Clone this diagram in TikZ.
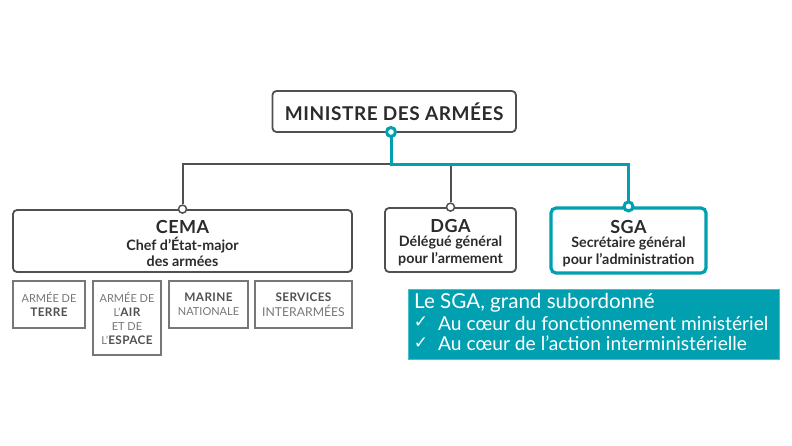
\documentclass[tikz,border=0pt]{standalone}
\usepackage{fontspec}
\setmainfont{Lato}
\definecolor{ink}{HTML}{2B2B2E}
\definecolor{edge}{HTML}{505052}
\definecolor{soft}{HTML}{77777A}
\definecolor{teal}{HTML}{00A0B0}
\definecolor{band}{HTML}{00A0B0}
\newfontfamily\wide[LetterSpace=3]{Lato}
\newfontfamily\sym{DejaVu Sans}
\newcommand{\fs}[1]{\fontsize{#1}{#1}\selectfont}
\tikzset{x=1pt,y=-1pt,
 mainbox/.style={draw=edge,line width=1.8pt,rounded corners=4pt,align=center,inner sep=0pt,text=ink},
 smallbox/.style={draw=soft,line width=1.3pt,align=center,inner sep=0pt,text=soft,font=\fs{11}},
 tealbox/.style={mainbox,draw=teal,line width=3.2pt,rounded corners=5pt},
 greyline/.style={draw=edge,line width=2pt},
 tealline/.style={draw=teal,line width=3pt},
 dotgrey/.style={circle,draw=edge,fill=white,line width=1.5pt,minimum size=8pt,inner sep=0pt},
 dotteal/.style={circle,draw=teal,fill=white,line width=3pt,minimum size=9pt,inner sep=0pt},
 notetext/.style={anchor=west,inner sep=0pt,text=white,font=\fs{19.2}},
 checkmark/.style={inner sep=0pt,text=white,font=\sym\fs{17}}}
\newcommand{\bx}[6]{\node[#1,minimum width=#4 pt,minimum height=#5 pt] (#2) at #3 {#6};}
\newcommand{\three}[3]{\rule{0pt}{18.5pt}{\bfseries\fs{18}\wide #1}\\[2pt]\fs{14.3}\bfseries #2\\[2.5pt]\fs{14.3}\bfseries #3}
\newcommand{\bold}[1]{\textcolor{edge}{\wide\bfseries\fs{11.8}#1}}
\begin{document}
\begin{tikzpicture}
\useasboundingbox (0,0) rectangle (792,445);
\fill[white] (0,0) rectangle (792,445);
\bx{mainbox}{min}{(394.2,111.5)}{243.5}{41}{\bfseries\fs{19}\wide MINISTRE DES ARMÉES}
\bx{mainbox}{cema}{(182.5,241)}{339}{62}{\three{CEMA}{Chef d’État-major}{des armées}}
\bx{mainbox}{dga}{(450.5,240)}{131}{64}{\three{DGA}{Délégué général}{pour l’armement}}
\bx{tealbox}{sga}{(628.5,240.5)}{155}{65}{\three{SGA}{Secrétaire général}{pour l’administration}}
\bx{smallbox}{terre}{(49,304.5)}{72}{47}{ARMÉE DE\\[3pt]\bold{TERRE}}
\bx{smallbox}{air}{(127,318)}{68}{74}{ARMÉE DE\\[3pt]L’\bold{AIR}\\[3pt]ET DE\\[3pt]L’\bold{ESPACE}}
\bx{smallbox}{marine}{(208.5,304.5)}{79}{47}{\bold{MARINE}\\[3pt]NATIONALE}
\bx{smallbox}{services}{(303.5,304.5)}{97}{47}{\bold{SERVICES}\\[3pt]{\fs{12.2}INTERARMÉES}}
\node[fill=band,draw=band!70!white,line width=.5pt,minimum width=371pt,minimum height=70pt,inner sep=0pt] (note) at (593.5,324) {};
\node[notetext,font=\fs{20.6}] (t1) at (414,303) {Le SGA, grand subordonné};
\node[notetext] (t2) at (438,323) {Au cœur du fonctionnement ministériel};
\node[notetext] (t3) at (438,343.5) {Au cœur de l’action interministérielle};
\node[checkmark] (c1) at (421,322) {✓};
\node[checkmark] (c2) at (421,343) {✓};
\coordinate (m) at (391,132);
\coordinate (j) at (391,164);
\node[dotgrey] (dc) at (cema.north) {};
\node[dotgrey] (dd) at (dga.north) {};
\draw[greyline] (dc.north) -- (dc.north |- j) -- (j);
\draw[greyline] (dd.north) -- (dd.north |- j);
\draw[tealline,line join=miter] (m) -- (j) -- (sga.north |- j) -- (sga.north);
\node[dotteal] (ds) at (sga.north) {};
\node[dotteal] (dm) at (m) {};
\end{tikzpicture}
\end{document}
